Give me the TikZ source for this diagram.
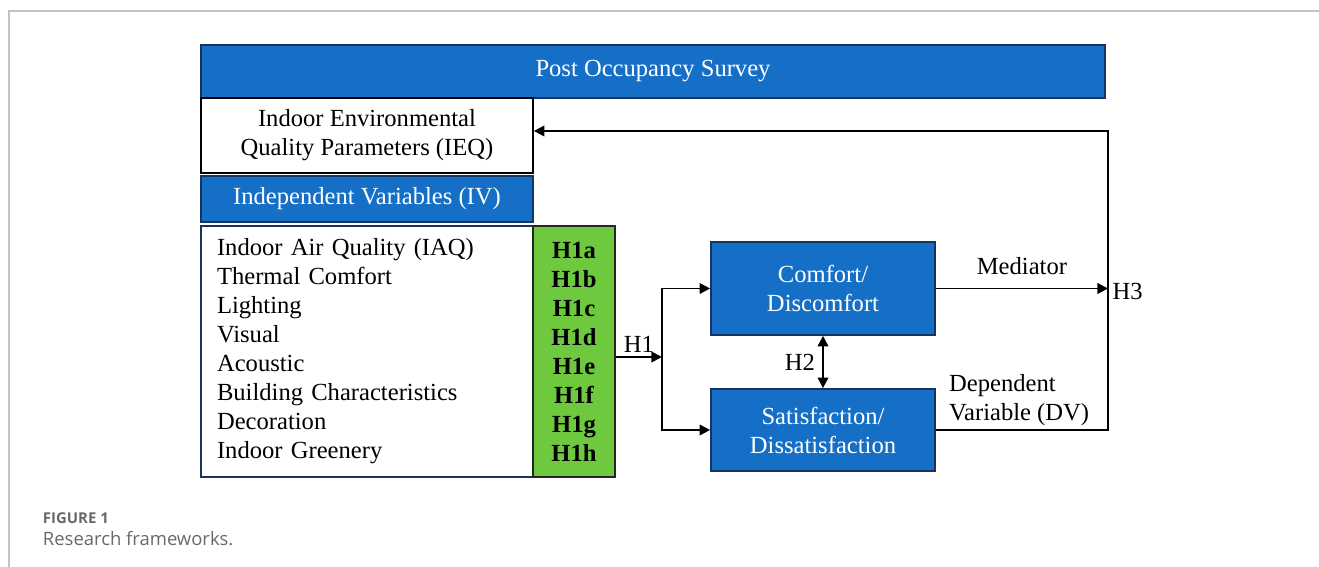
\documentclass[tikz,border=0pt]{standalone}
\usepackage{fontspec}
\setmainfont{Liberation Serif}
\newfontfamily\capfont{Open Sans}
\usepackage{tikz}
\usetikzlibrary{
    arrows.meta,
    positioning,
    calc
}
\definecolor{boxblue}{RGB}{21,111,198}
\definecolor{boxnavy}{RGB}{20,52,98}
\definecolor{hypgreen}{RGB}{110,201,62}
\definecolor{framegray}{RGB}{195,195,195}
\definecolor{capgray}{RGB}{105,105,105}

\begin{document}
\begin{tikzpicture}[
    x=0.02cm, y=-0.02cm,
    >={Triangle[length=6pt, width=6pt]},
    line width=1.1pt,
    font=\fontsize{14}{16.5}\selectfont,
    bluebox/.style={rectangle, draw=boxnavy, fill=boxblue, text=white,
                    line width=1pt, align=center},
    whitebox/.style={rectangle, draw=black, fill=white,
                     line width=1pt, align=center},
    greenbox/.style={rectangle, draw=black!85, fill=hypgreen,
                     line width=1pt, align=center, font=\fontsize{14}{16.5}\selectfont\bfseries},
    lab/.style={inner sep=2pt},
    caption/.style={text=capgray, inner sep=0pt, anchor=base west}
]
\useasboundingbox (0,0) rectangle (1319,567);

% page frame
\draw[framegray, line width=0.7pt] (9,567) -- (9,11) -- (1319,11);

% =========================
% 1) LEFT COLUMN
% =========================
\node[bluebox, minimum width=18.08cm, minimum height=1.06cm]
    (survey) at (653,71.5) {Post Occupancy Survey};
\node[whitebox, minimum width=6.64cm, minimum height=1.5cm]
    (ieq) at (367,135.5) {Indoor Environmental\\Quality Parameters (IEQ)};
\node[bluebox, minimum width=6.64cm, minimum height=0.92cm]
    (iv) at (367,199) {Independent Variables (IV)};
\node[whitebox, draw=boxnavy, align=left, text width=6cm,
      minimum width=6.64cm, minimum height=5.02cm]
    (factors) at (367,351.5) {%
    Indoor Air Quality (IAQ)\\
    Thermal Comfort\\
    Lighting\\
    Visual\\
    Acoustic\\
    Building Characteristics\\
    Decoration\\
    Indoor Greenery};
\node[greenbox, minimum width=1.64cm, minimum height=5.02cm]
    (hyp) at (574,351.5) {H1a\\H1b\\H1c\\H1d\\H1e\\H1f\\H1g\\H1h};

% =========================
% 2) OUTCOMES (RIGHT)
% =========================
\node[bluebox, minimum width=4.48cm, minimum height=1.86cm]
    (comfort) at (823,288.5) {Comfort/\\Discomfort};
\node[bluebox, minimum width=4.48cm, minimum height=1.64cm]
    (satis) at (823,430) {Satisfaction/\\Dissatisfaction};

\coordinate (split) at (662,357);
\coordinate (loop)  at (1108,131);
\node[lab, anchor=west, inner sep=1pt] (h3) at (1110,291) {H3};

\draw[->] (hyp.east |- split) -- (split) node[midway, above, lab] {H1};
\draw[->] (split) |- (comfort.west);
\draw[->] (split) |- (satis.west);
\draw[<->] (comfort.south) -- (satis.north) node[midway, left, lab, xshift=-2pt] {H2};
\draw[->] (comfort.east) -- (comfort.east -| loop) node[midway, above, lab, yshift=5pt] {Mediator};
\draw[->] (satis.east) -| (loop) -- (ieq.east |- loop);

\node[lab, anchor=south west, align=left] (dv)
    at ([xshift=5pt]satis.east) {Dependent\\Variable (DV)};

% caption
\node[caption, font=\capfont\bfseries\fontsize{8.5}{10}\selectfont]
    (fig) at (42,523) {FIGURE 1};
\node[caption, font=\capfont\fontsize{10.5}{12}\selectfont]
    (title) at (42,545) {Research frameworks.};

\end{tikzpicture}
\end{document}
